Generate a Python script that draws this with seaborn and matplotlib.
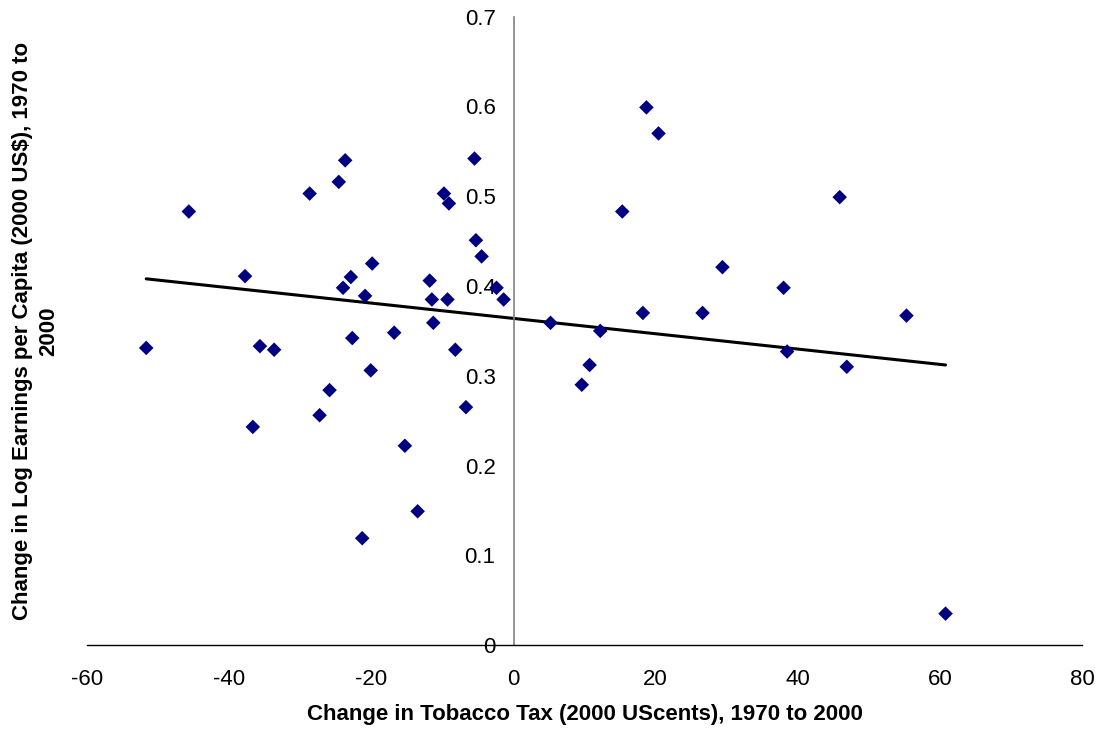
import numpy as np
import pandas as pd
import matplotlib
matplotlib.use("Agg")
import matplotlib.pyplot as plt
import seaborn as sns

# Change in tobacco tax (2000 US cents) and change in log earnings per capita, 1970-2000
tax_change = [
    -45.7, -37.8, -28.7, -24.6, -23.7, -24.0, -22.9, -20.9, -19.9, -11.8,
    -11.5, -9.3, -9.8, -9.1, -5.5, -5.3, -4.5, -2.4, -1.4, -11.3,
    -51.7, -35.7, -33.7, -36.7, -27.3, -25.9, -22.7, -20.1, -16.8, -15.3,
    -13.5, -21.3, -8.2, -6.7, 18.7, 20.4, 15.3, 45.9, 29.4, 38.0,
    18.2, 26.6, 55.3, 5.2, 12.2, 10.7, 9.6, 38.5, 46.9, 60.8,
]
earnings_change = [
    0.483, 0.411, 0.503, 0.516, 0.540, 0.398, 0.410, 0.389, 0.425, 0.406,
    0.385, 0.385, 0.503, 0.492, 0.542, 0.451, 0.433, 0.398, 0.385, 0.359,
    0.331, 0.333, 0.329, 0.243, 0.256, 0.284, 0.342, 0.306, 0.348, 0.222,
    0.149, 0.119, 0.329, 0.265, 0.599, 0.570, 0.483, 0.499, 0.421, 0.398,
    0.370, 0.370, 0.367, 0.359, 0.350, 0.312, 0.290, 0.327, 0.310, 0.035,
]

# Linear trend line endpoints
trend_x = [-51.7, 60.8]
trend_y = [0.408, 0.312]

x_ticks = [-60, -40, -20, 0, 20, 40, 60, 80]
y_ticks = [0, 0.1, 0.2, 0.3, 0.4, 0.5, 0.6, 0.7]
y_tick_labels = ["0", "0.1", "0.2", "0.3", "0.4", "0.5", "0.6", "0.7"]

df = pd.DataFrame({"tax": tax_change, "earn": earnings_change})
trend = pd.DataFrame({"tax": trend_x, "earn": trend_y})

sns.set_style("white")
plt.rcParams["font.family"] = ["Liberation Sans", "DejaVu Sans"]

fig = plt.figure(figsize=(10.99, 7.31), dpi=100)
ax = fig.add_axes([0.0794, 0.1176, 0.9051, 0.8595])

sns.lineplot(data=trend, x="tax", y="earn", ax=ax, color="black",
             linewidth=2.2, zorder=2)
sns.scatterplot(data=df, x="tax", y="earn", ax=ax, marker="D", s=55,
                color="#000080", edgecolor="none", zorder=3)

ax.set_xlim(-60, 80)
ax.set_ylim(0, 0.7)
ax.set_xticks(x_ticks)
ax.set_xticklabels([str(t) for t in x_ticks])
ax.set_yticks(y_ticks)
ax.set_yticklabels(y_tick_labels)

# y axis drawn through x = 0, x axis along the bottom
ax.spines["left"].set_position(("data", 0))
ax.spines["left"].set_color("#808080")
ax.spines["left"].set_linewidth(1.2)
ax.spines["bottom"].set_color("black")
ax.spines["bottom"].set_linewidth(1.0)
ax.spines["top"].set_visible(False)
ax.spines["right"].set_visible(False)

ax.tick_params(axis="both", which="major", labelsize=16, direction="out",
               length=4, width=1, colors="black")
ax.tick_params(axis="y", pad=9)
ax.tick_params(axis="x", pad=13)

ax.set_xlabel("Change in Tobacco Tax (2000 UScents), 1970 to 2000",
              fontsize=16, fontweight="bold", labelpad=10, color="black")
ax.set_ylabel("Change in Log Earnings per Capita (2000 US$), 1970 to\n2000",
              fontsize=16, fontweight="bold", linespacing=1.35, color="black")
ax.yaxis.set_label_coords(-0.028, 0.5)

fig.savefig("out.png", dpi=100)
